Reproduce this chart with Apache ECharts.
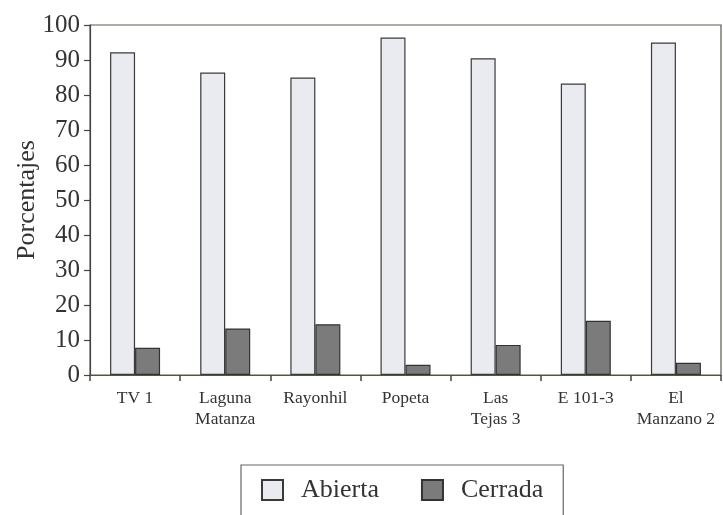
<!DOCTYPE html>
<html>
<head>
<meta charset="utf-8">
<script src="https://cdn.jsdelivr.net/npm/echarts@6/dist/echarts.min.js"></script>
<style>
html,body{margin:0;padding:0;background:#fff;}
#main{width:723px;height:515px;}
</style>
</head>
<body>
<div id="main"></div>
<script>
var categories = ['TV 1', 'Laguna\nMatanza', 'Rayonhil', 'Popeta', 'Las\nTejas 3', 'E 101-3', 'El\nManzano 2'];
var abierta = [92.2, 86.4, 85.0, 96.4, 90.5, 83.3, 95.0];
var cerrada = [7.8, 13.3, 14.5, 2.9, 8.6, 15.5, 3.5];
var yTicks = [0, 10, 20, 30, 40, 50, 60, 70, 80, 90, 100];

var serif = '"Liberation Serif", "DejaVu Serif", serif';
var chart = echarts.init(document.getElementById('main'), null, {renderer: 'canvas'});
chart.setOption({
  animation: false,
  backgroundColor: '#ffffff',
  grid: {
    left: 90, right: 2, top: 25, bottom: 140,
    show: true, borderColor: '#5a5a4a', borderWidth: 1.2, backgroundColor: 'transparent'
  },
  legend: {
    left: 241, top: 465,
    padding: [12, 20, 30, 20],
    borderColor: '#666', borderWidth: 1.2,
    itemWidth: 21, itemHeight: 20,
    itemGap: 42,
    icon: 'rect',
    textStyle: {fontFamily: serif, fontSize: 26, color: '#333', padding: [0, 0, 0, 13]},
    data: ['Abierta', 'Cerrada']
  },
  xAxis: {
    type: 'category',
    data: categories,
    boundaryGap: true,
    axisLine: {show: true, lineStyle: {color: '#4a5a3a', width: 1.2}},
    axisTick: {show: true, alignWithLabel: false, length: 6, lineStyle: {color: '#444', width: 1.5}},
    axisLabel: {fontFamily: serif, fontSize: 17.5, color: '#333', margin: 13, lineHeight: 21, interval: 0}
  },
  yAxis: {
    type: 'value',
    min: yTicks[0], max: yTicks[yTicks.length - 1], interval: 10,
    name: 'Porcentajes',
    nameLocation: 'middle',
    nameGap: 50,
    nameMoveOverlap: false,
    nameTextStyle: {fontFamily: serif, fontSize: 26, color: '#333'},
    axisLine: {show: true, lineStyle: {color: '#444', width: 1.2}},
    axisTick: {show: true, length: 6, lineStyle: {color: '#444', width: 1.2}},
    splitLine: {show: false},
    axisLabel: {fontFamily: serif, fontSize: 25, color: '#333', margin: 10}
  },
  series: [
    {
      name: 'Abierta', type: 'bar', data: abierta,
      barWidth: 25, barGap: '0%',
      itemStyle: {color: '#e9ebf1', borderColor: '#3a3a3a', borderWidth: 1.2}
    },
    {
      name: 'Cerrada', type: 'bar', data: cerrada,
      barWidth: 25, barGap: '0%',
      itemStyle: {color: '#7b7b7b', borderColor: '#333', borderWidth: 1.2}
    }
  ]
});
</script>
</body>
</html>
